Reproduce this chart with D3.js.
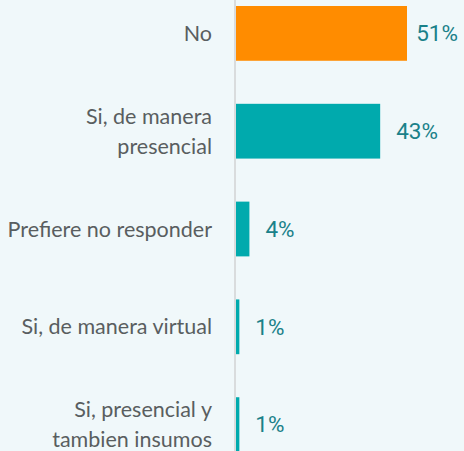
<!DOCTYPE html>
<html>
<head>
<meta charset="utf-8">
<script src="https://cdn.jsdelivr.net/npm/d3@7"></script>
<style>
  html, body { margin: 0; padding: 0; background: #f0f8fa; }
  svg { display: block; }
</style>
</head>
<body>
<svg></svg>
<script>
// chart data
const categories = ["No", "Si, de manera\npresencial", "Prefiere no responder", "Si, de manera virtual", "Si, presencial y\ntambien insumos"];
const values = [51, 43, 4, 1, 1];
const barColors = ["#ff8c00", "#00aaad", "#00aaad", "#00aaad", "#00aaad"];

const width = 464, height = 451;
const axisX = 235;

const svgCanvas = d3.select("svg")
    .attr("width", width)
    .attr("height", height);

svgCanvas.append("rect")
    .attr("width", width)
    .attr("height", height)
    .attr("fill", "#f0f8fa");

const x = d3.scaleLinear()
    .domain([0, 68])
    .range([axisX + 1, width]);

const y = d3.scaleBand()
    .domain(categories)
    .range([6, 452])
    .paddingInner(0.44)
    .paddingOuter(0);

// vertical axis line
svgCanvas.append("line")
    .attr("x1", axisX).attr("x2", axisX)
    .attr("y1", 0).attr("y2", height)
    .attr("stroke", "#d9dcdd")
    .attr("stroke-width", 2);

svgCanvas.selectAll("rect.bar")
    .data(values)
    .join("rect")
    .attr("class", "bar")
    .attr("x", x(0))
    .attr("y", (d, i) => y(categories[i]))
    .attr("width", d => x(d) - x(0))
    .attr("height", y.bandwidth())
    .attr("fill", (d, i) => barColors[i]);

// category labels, split on line breaks
const labels = svgCanvas.selectAll("text.cat")
    .data(categories)
    .join("text")
    .attr("class", "cat")
    .attr("text-anchor", "end")
    .attr("font-family", "Lato, sans-serif")
    .attr("font-size", 21.5)
    .attr("fill", "#595e60");

labels.each(function(d) {
    const lines = d.split("\n");
    const cy = y(d) + y.bandwidth() / 2;
    const lineH = 30;
    const first = cy - (lines.length - 1) * lineH / 2;
    d3.select(this).selectAll("tspan")
        .data(lines)
        .join("tspan")
        .attr("x", axisX - 23)
        .attr("y", (l, j) => first + j * lineH)
        .attr("dy", "0.35em")
        .text(l => l);
});

// value labels
svgCanvas.selectAll("text.val")
    .data(values)
    .join("text")
    .attr("class", "val")
    .attr("font-family", "Roboto, sans-serif")
    .attr("font-size", 22.5)
    .attr("fill", "#1a8189")
    .attr("y", (d, i) => y(categories[i]) + y.bandwidth() / 2)
    .attr("dy", "0.35em")
    .text(d => d + "%")
    .attr("x", function(d) {
        const w = this.getComputedTextLength();
        let px = x(d) + 16;
        if (px + w > width - 6) px = width - 6 - w;
        return px;
    });
</script>
</body>
</html>
